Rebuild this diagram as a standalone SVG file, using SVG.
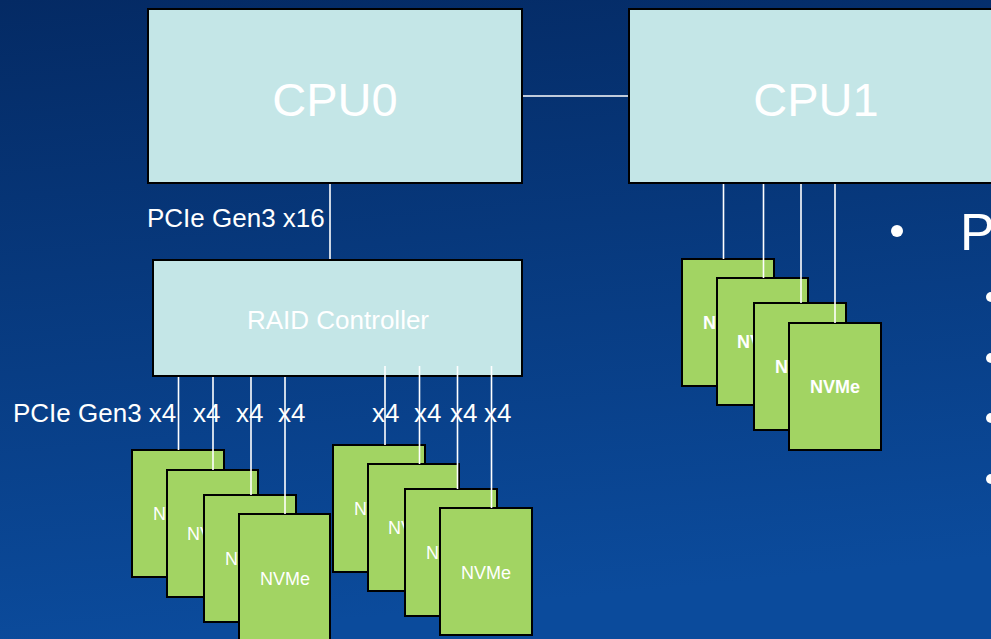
<svg xmlns="http://www.w3.org/2000/svg" width="991" height="639" viewBox="0 0 991 639">
<defs>
<linearGradient id="bg" x1="0" y1="0" x2="0.15" y2="1">
<stop offset="0" stop-color="#042A64"/>
<stop offset="1" stop-color="#0B4B9C"/>
</linearGradient>
<style>
text{font-family:"Liberation Sans",Arial,sans-serif;fill:#FFFFFF}
.box{fill:#C4E6E7;stroke:#000;stroke-width:2}
.ssd{fill:#A2D463;stroke:#000;stroke-width:2}
.ln{stroke:#FFFFFF;stroke-width:1.6;fill:none}
.big{font-size:47px;text-anchor:middle}
.lbl{font-size:26px}
.nv{font-size:18px;text-anchor:middle}
.nvb{font-size:18px;text-anchor:middle;font-weight:bold}
</style>
</defs>
<rect x="0" y="0" width="991" height="639" fill="url(#bg)"/>

<g id="cpu0"><rect class="box" x="148" y="9" width="374" height="174"/><text class="big" x="335" y="116">CPU0</text></g>
<g id="cpu1"><rect class="box" x="629" y="9" width="380" height="174"/><text class="big" x="816" y="116">CPU1</text></g>
<g id="raid"><rect class="box" x="153" y="260" width="369" height="116"/><text class="lbl" x="338" y="329" text-anchor="middle">RAID Controller</text></g>

<g id="labels">
<text class="lbl" x="147" y="227">PCIe Gen3 x16</text>
<text class="lbl" x="13" y="422">PCIe Gen3 x4</text>
<text class="lbl" x="193" y="422">x4</text>
<text class="lbl" x="236" y="422">x4</text>
<text class="lbl" x="278" y="422">x4</text>
<text class="lbl" x="372" y="422">x4</text>
<text class="lbl" x="414" y="422">x4</text>
<text class="lbl" x="450" y="422">x4</text>
<text class="lbl" x="484" y="422">x4</text>
</g>

<g id="nvme-a1"><rect class="ssd" x="132" y="450" width="92" height="127"/><text class="nv" x="178" y="520">NVMe</text></g>
<g id="nvme-a2"><rect class="ssd" x="167" y="470" width="91" height="127"/><text class="nv" x="212" y="540">NVMe</text></g>
<g id="nvme-a3"><rect class="ssd" x="204" y="495" width="92" height="127"/><text class="nv" x="250" y="565">NVMe</text></g>
<g id="nvme-a4"><rect class="ssd" x="239" y="514" width="91" height="127"/><text class="nv" x="285" y="585">NVMe</text></g>

<g id="nvme-b1"><rect class="ssd" x="333" y="445" width="92" height="127"/><text class="nv" x="379" y="515">NVMe</text></g>
<g id="nvme-b2"><rect class="ssd" x="368" y="464" width="91" height="127"/><text class="nv" x="413" y="534">NVMe</text></g>
<g id="nvme-b3"><rect class="ssd" x="405" y="489" width="92" height="127"/><text class="nv" x="451" y="559">NVMe</text></g>
<g id="nvme-b4"><rect class="ssd" x="440" y="508" width="92" height="127"/><text class="nv" x="486" y="579">NVMe</text></g>

<g id="nvme-c1"><rect class="ssd" x="682" y="259" width="92" height="127"/><text class="nvb" x="728" y="329">NVMe</text></g>
<g id="nvme-c2"><rect class="ssd" x="717" y="278" width="91" height="127"/><text class="nvb" x="762" y="348">NVMe</text></g>
<g id="nvme-c3"><rect class="ssd" x="754" y="303" width="92" height="127"/><text class="nvb" x="800" y="373">NVMe</text></g>
<g id="nvme-c4"><rect class="ssd" x="789" y="323" width="92" height="127"/><text class="nvb" x="835" y="393">NVMe</text></g>

<g id="connectors">
<line class="ln" x1="523" y1="96" x2="628" y2="96"/>
<line class="ln" x1="330" y1="184" x2="330" y2="259"/>
<line class="ln" x1="178.5" y1="377" x2="178.5" y2="450"/>
<line class="ln" x1="213" y1="377" x2="213" y2="470"/>
<line class="ln" x1="251" y1="377" x2="251" y2="495"/>
<line class="ln" x1="285" y1="377" x2="285" y2="514"/>
<line class="ln" x1="385" y1="366" x2="385" y2="445"/>
<line class="ln" x1="419.5" y1="366" x2="419.5" y2="464"/>
<line class="ln" x1="457.5" y1="366" x2="457.5" y2="489"/>
<line class="ln" x1="491.5" y1="366" x2="491.5" y2="508"/>
<line class="ln" x1="723.5" y1="184" x2="723.5" y2="259"/>
<line class="ln" x1="763.5" y1="184" x2="763.5" y2="278"/>
<line class="ln" x1="801" y1="184" x2="801" y2="303"/>
<line class="ln" x1="835" y1="184" x2="835" y2="323"/>
</g>

<g id="bullets">
<circle cx="897" cy="231" r="6" fill="#FFFFFF"/>
<text x="960" y="250" font-size="52">P</text>
<circle cx="991" cy="297" r="5" fill="#FFFFFF"/>
<circle cx="991" cy="358" r="5" fill="#FFFFFF"/>
<circle cx="991" cy="418" r="5" fill="#FFFFFF"/>
<circle cx="991" cy="479" r="5" fill="#FFFFFF"/>
</g>
</svg>
